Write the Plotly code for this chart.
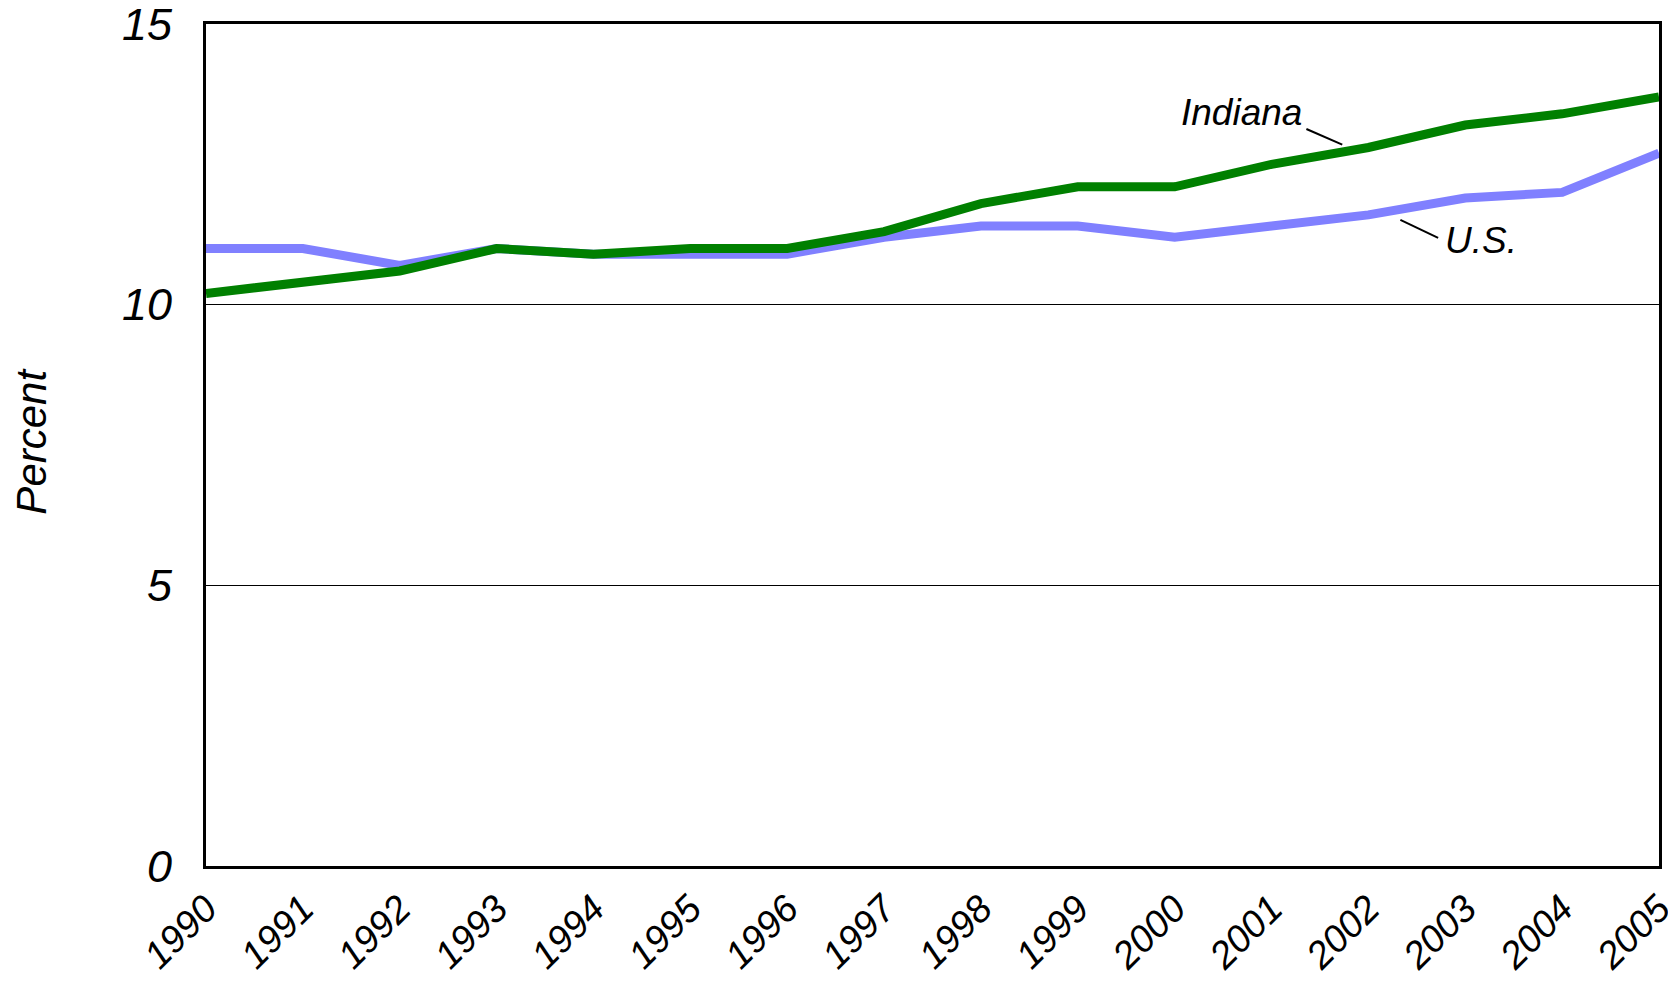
import plotly.graph_objects as go

years = list(range(1990, 2006))
indiana = [10.2, 10.4, 10.6, 11.0, 10.9, 11.0, 11.0, 11.3, 11.8, 12.1, 12.1, 12.5, 12.8, 13.2, 13.4, 13.7]
us = [11.0, 11.0, 10.7, 11.0, 10.9, 10.9, 10.9, 11.2, 11.4, 11.4, 11.2, 11.4, 11.6, 11.9, 12.0, 12.7]
y_ticks = [0, 5, 10, 15]
x_tick_labels = [str(y) for y in years]

FONT = "Liberation Sans, Arial, sans-serif"

fig = go.Figure()
fig.add_trace(go.Scatter(x=years, y=us, mode="lines", name="U.S.",
                         line=dict(color="#8080ff", width=9), showlegend=False))
fig.add_trace(go.Scatter(x=years, y=indiana, mode="lines", name="Indiana",
                         line=dict(color="#008000", width=9), showlegend=False))

# label leader lines
fig.add_shape(type="line", x0=2001.36, y0=13.13, x1=2001.73, y1=12.85,
              line=dict(color="black", width=2))
fig.add_shape(type="line", x0=2002.33, y0=11.51, x1=2002.72, y1=11.19,
              line=dict(color="black", width=2))

fig.add_annotation(x=2000.69, y=13.42, text="<i>Indiana</i>", showarrow=False,
                   font=dict(family=FONT, size=37, color="black"))
fig.add_annotation(x=2003.16, y=11.14, text="<i>U.S.</i>", showarrow=False,
                   font=dict(family=FONT, size=37, color="black"))

fig.add_annotation(xref="paper", yref="paper", x=0, y=0.504, xshift=-174,
                   xanchor="center", yanchor="middle",
                   text="<i>Percent</i>", textangle=-90, showarrow=False,
                   font=dict(family=FONT, size=42, color="black"))

fig.update_xaxes(range=[1990, 2005], tickmode="array", tickvals=years,
                 ticktext=[f"<i>{t}</i>" for t in x_tick_labels], tickangle=-45,
                 showgrid=False, zeroline=False, automargin=False,
                 showline=True, linecolor="black", linewidth=3, mirror=True,
                 ticks="", ticklabelstandoff=2, ticklabeloverflow="allow",
                 tickfont=dict(family=FONT, size=38, color="black"))
fig.update_yaxes(range=[0, 15], tickmode="array", tickvals=y_ticks,
                 ticktext=[f"<i>{t}</i>" for t in y_ticks],
                 showgrid=True, gridcolor="black", gridwidth=1, zeroline=False,
                 automargin=False,
                 showline=True, linecolor="black", linewidth=3, mirror=True,
                 ticks="inside", ticklen=18, tickwidth=1, tickcolor="black",
                 ticklabelstandoff=22, ticklabeloverflow="allow",
                 tickfont=dict(family=FONT, size=45, color="black"))

fig.update_layout(width=1660, height=968,
                  margin=dict(l=198, r=9, t=16, b=110, autoexpand=False),
                  paper_bgcolor="white", plot_bgcolor="white")

fig.write_html("out.html")
